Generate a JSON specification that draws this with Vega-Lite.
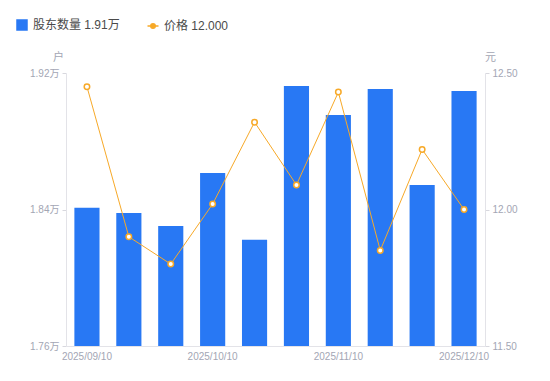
{
  "$schema": "https://vega.github.io/schema/vega-lite/v6.json",
  "width": 419,
  "height": 273,
  "autosize": {"type": "none"},
  "padding": {"left": 66, "top": 73, "right": 65, "bottom": 35},
  "background": "white",
  "config": {
    "view": {"stroke": null},
    "font": "Liberation Sans, Noto Sans CJK SC",
    "axis": {"grid": false, "labelColor": "#a3a6b4", "labelFontSize": 10, "domainColor": "#e3e3e8", "tickColor": "#d8d8de", "titleColor": "#a3a6b4", "titleFontWeight": "normal", "titleFontSize": 11}
  },
  "data": {
    "values": [
      {"date": "2025/09/10", "holders": 18410, "price": 12.45},
      {"date": "2025/09/20", "holders": 18380, "price": 11.90},
      {"date": "2025/09/30", "holders": 18303, "price": 11.80},
      {"date": "2025/10/10", "holders": 18614, "price": 12.02},
      {"date": "2025/10/20", "holders": 18222, "price": 12.32},
      {"date": "2025/10/31", "holders": 19124, "price": 12.09},
      {"date": "2025/11/10", "holders": 18954, "price": 12.43},
      {"date": "2025/11/20", "holders": 19106, "price": 11.85},
      {"date": "2025/11/30", "holders": 18544, "price": 12.22},
      {"date": "2025/12/10", "holders": 19094, "price": 12.00}
    ]
  },
  "encoding": {
    "x": {
      "field": "date", "type": "ordinal", "sort": null,
      "scale": {"paddingInner": 0.4, "paddingOuter": 0.2},
      "axis": {
        "title": null, "ticks": false, "labelAngle": 0, "labelPadding": 5,
        "labelExpr": "indexof(['2025/09/10','2025/10/10','2025/11/10','2025/12/10'], datum.label) >= 0 ? datum.label : ''"
      }
    }
  },
  "layer": [
    {
      "mark": {"type": "bar", "color": "#2878f4", "clip": true},
      "encoding": {
        "y": {
          "field": "holders", "type": "quantitative",
          "scale": {"domain": [17600, 19200], "nice": false, "zero": false},
          "axis": {
            "orient": "left", "values": [17600, 18400, 19200], "tickSize": 4, "labelPadding": 3,
            "labelExpr": "format(datum.value / 10000, '.2f') + '万'",
            "title": "户", "titleAngle": 0, "titleX": -8, "titleY": -16, "titleAlign": "center", "titleBaseline": "middle"
          }
        },
        "color": {
          "datum": "股东数量", "type": "nominal",
          "scale": {"domain": ["股东数量", "价格"], "range": ["#2878f4", "#f7a928"]},
          "legend": {
            "title": null, "orient": "none", "direction": "horizontal", "legendX": -50, "legendY": -54,
            "labelFontSize": 12, "labelColor": "#4a4a4a", "labelFont": "Liberation Sans, Noto Sans CJK SC",
            "columnPadding": 20, "symbolSize": 100, "labelOffset": 5,
            "labelExpr": "datum.label === '股东数量' ? '股东数量  1.91万' : '价格  12.000'",
            "encode": {
              "symbols": {
                "update": {
                  "shape": {"signal": "datum.value === '价格' ? 'M-1.1,0L-0.45,0M0.45,0L1.1,0M-0.45,0A0.45,0.45,0,1,0,0.45,0A0.45,0.45,0,1,0,-0.45,0' : 'square'"},
                  "fill": {"signal": "datum.value === '价格' ? 'white' : '#2878f4'"},
                  "stroke": {"signal": "datum.value === '价格' ? '#f7a928' : '#2878f4'"},
                  "strokeWidth": {"value": 1.5},
                  "opacity": {"value": 1}
                }
              }
            }
          }
        }
      }
    },
    {
      "mark": {"type": "line", "strokeWidth": 1, "point": {"filled": false, "fill": "white", "size": 30, "strokeWidth": 1.5}},
      "encoding": {
        "y": {
          "field": "price", "type": "quantitative",
          "scale": {"domain": [11.5, 12.5], "nice": false, "zero": false},
          "axis": {
            "orient": "right", "values": [11.5, 12.0, 12.5], "tickSize": 4, "labelPadding": 3, "format": ".2f",
            "title": "元", "titleAngle": 0, "titleX": 5, "titleY": -16, "titleAlign": "center", "titleBaseline": "middle"
          }
        },
        "color": {"datum": "价格", "type": "nominal"}
      }
    }
  ],
  "resolve": {"scale": {"y": "independent"}}
}
